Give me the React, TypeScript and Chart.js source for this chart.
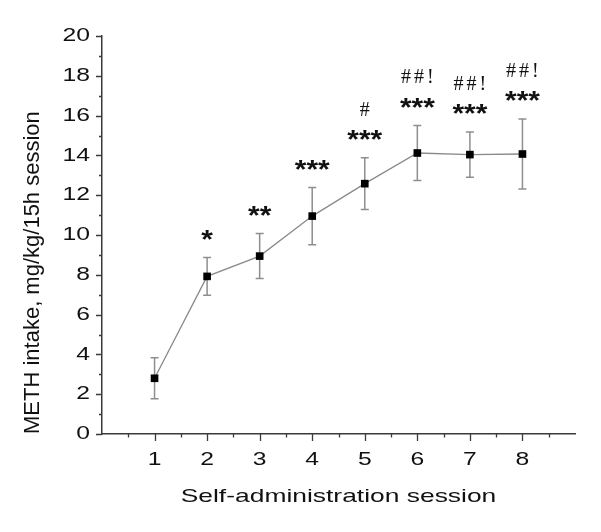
import React, { useEffect, useRef } from "react";
import { Chart, registerables } from "chart.js";

Chart.register(...registerables);

// ---- data ----
const sessions = [1, 2, 3, 4, 5, 6, 7, 8];
const intake = [2.8, 7.92, 8.94, 10.95, 12.58, 14.12, 14.04, 14.07];
const sem = [1.03, 0.95, 1.13, 1.44, 1.3, 1.38, 1.14, 1.76];
const starLabels = ["", "*", "**", "***", "***", "***", "***", "***"];
const hashLabels = ["", "", "", "", "#", "##!", "##!", "##!"];
const yTickValues = [0, 2, 4, 6, 8, 10, 12, 14, 16, 18, 20];
const xTickValues = [1, 2, 3, 4, 5, 6, 7, 8];
const xTitle = "Self-administration session";
const yTitle = "METH intake, mg/kg/15h session";

const SANS = "'Liberation Sans', Arial, sans-serif";
const SERIF = "'Liberation Serif', 'Times New Roman', serif";
const TEXT = "#111";
const AXIS = "#3a3a3a";

function stretchedText(
  ctx: CanvasRenderingContext2D,
  text: string,
  x: number,
  y: number,
  sx: number,
  align: CanvasTextAlign
) {
  ctx.save();
  ctx.translate(x, y);
  ctx.scale(sx, 1);
  ctx.textAlign = align;
  ctx.fillText(text, 0, 0);
  ctx.restore();
}

const decorPlugin = {
  id: "decor",
  beforeDatasetsDraw(chart: any) {
    const { ctx, scales } = chart;
    const xs = scales.x;
    const ys = scales.y;
    ctx.save();
    ctx.strokeStyle = "#8e8e8e";
    ctx.lineWidth = 1.5;
    sessions.forEach((s, i) => {
      const px = xs.getPixelForValue(s);
      const top = ys.getPixelForValue(intake[i] + sem[i]);
      const bot = ys.getPixelForValue(intake[i] - sem[i]);
      ctx.beginPath();
      ctx.moveTo(px, top);
      ctx.lineTo(px, bot);
      ctx.moveTo(px - 4, top);
      ctx.lineTo(px + 4, top);
      ctx.moveTo(px - 4, bot);
      ctx.lineTo(px + 4, bot);
      ctx.stroke();
    });
    ctx.restore();
  },
  afterDraw(chart: any) {
    const { ctx, scales, chartArea } = chart;
    const xs = scales.x;
    const ys = scales.y;
    const axisX = chartArea.left;
    const axisY = chartArea.bottom;
    ctx.save();
    // tick marks
    ctx.strokeStyle = AXIS;
    ctx.lineWidth = 1.3;
    ctx.beginPath();
    for (let v = yTickValues[0]; v <= yTickValues[yTickValues.length - 1]; v += 1) {
      const py = Math.round(ys.getPixelForValue(v)) + 0.5;
      const major = yTickValues.includes(v);
      ctx.moveTo(axisX, py);
      ctx.lineTo(axisX - (major ? 6 : 3), py);
    }
    for (let v = 0.5; v <= xs.max - 0.5; v += 0.5) {
      const px = Math.round(xs.getPixelForValue(v)) + 0.5;
      const major = xTickValues.includes(v);
      ctx.moveTo(px, axisY);
      ctx.lineTo(px, axisY + (major ? 7 : 3.5));
    }
    ctx.stroke();

    // tick labels
    ctx.fillStyle = TEXT;
    ctx.font = `19px ${SANS}`;
    ctx.textBaseline = "middle";
    yTickValues.forEach((v) => {
      stretchedText(ctx, String(v), axisX - 12, ys.getPixelForValue(v), 1.3, "right");
    });
    xTickValues.forEach((v) => {
      stretchedText(ctx, String(v), xs.getPixelForValue(v), axisY + 26, 1.3, "center");
    });

    // axis titles
    ctx.font = `19px ${SANS}`;
    stretchedText(ctx, xTitle, (chartArea.left + chartArea.right) / 2, axisY + 63, 1.39, "center");
    ctx.save();
    ctx.translate(33, axisY);
    ctx.rotate(-Math.PI / 2);
    ctx.font = `22px ${SANS}`;
    ctx.textAlign = "left";
    ctx.textBaseline = "middle";
    ctx.fillText(yTitle, 0, 0);
    ctx.restore();

    // significance annotations
    ctx.textBaseline = "alphabetic";
    sessions.forEach((s, i) => {
      const px = xs.getPixelForValue(s);
      const top = ys.getPixelForValue(intake[i] + sem[i]);
      const starCenter = top - 25;
      if (starLabels[i]) {
        const size = 26;
        ctx.font = `bold ${size}px ${SANS}`;
        stretchedText(ctx, starLabels[i], px, starCenter + 0.58 * size, 1.15, "center");
      }
      if (hashLabels[i]) {
        const size = 20;
        const spacing = 3;
        ctx.save();
        ctx.font = `${size}px ${SERIF}`;
        (ctx as any).letterSpacing = `${spacing}px`;
        ctx.textAlign = "center";
        ctx.fillText(hashLabels[i], px + spacing / 2, starCenter - 24 + 0.34 * size);
        ctx.restore();
      }
    });
    ctx.restore();
  },
};

export default function App() {
  const ref = useRef<HTMLCanvasElement | null>(null);
  useEffect(() => {
    if (!ref.current) return;
    const chart = new Chart(ref.current, {
      type: "line",
      data: {
        datasets: [
          {
            data: sessions.map((s, i) => ({ x: s, y: intake[i] })),
            borderColor: "#8a8a8a",
            borderWidth: 1.3,
            pointStyle: "rect",
            pointRadius: 5.4,
            pointHoverRadius: 5.4,
            pointBackgroundColor: "#000",
            pointBorderColor: "#000",
            pointBorderWidth: 0,
            tension: 0,
          },
        ],
      },
      options: {
        responsive: false,
        animation: false,
        events: [],
        layout: { padding: { top: 36, right: 26, left: 0, bottom: 0 } },
        plugins: { legend: { display: false }, tooltip: { enabled: false } },
        scales: {
          x: {
            type: "linear",
            min: 0,
            max: 9,
            grid: { display: false, drawTicks: false },
            border: { display: true, color: AXIS, width: 1.5 },
            ticks: { display: false },
            afterFit: (scale: any) => {
              scale.height = 98;
            },
          },
          y: {
            type: "linear",
            min: 0,
            max: 20,
            grid: { display: false, drawTicks: false },
            border: { display: true, color: AXIS, width: 1.5 },
            ticks: { display: false },
            afterFit: (scale: any) => {
              scale.width = 102;
            },
          },
        },
      },
      plugins: [decorPlugin],
    });
    return () => chart.destroy();
  }, []);
  return (
    <div style={{ position: "fixed", left: 0, top: 0, width: 601, height: 532, background: "#fff" }}>
      <canvas ref={ref} width={601} height={532} style={{ display: "block" }} />
    </div>
  );
}
